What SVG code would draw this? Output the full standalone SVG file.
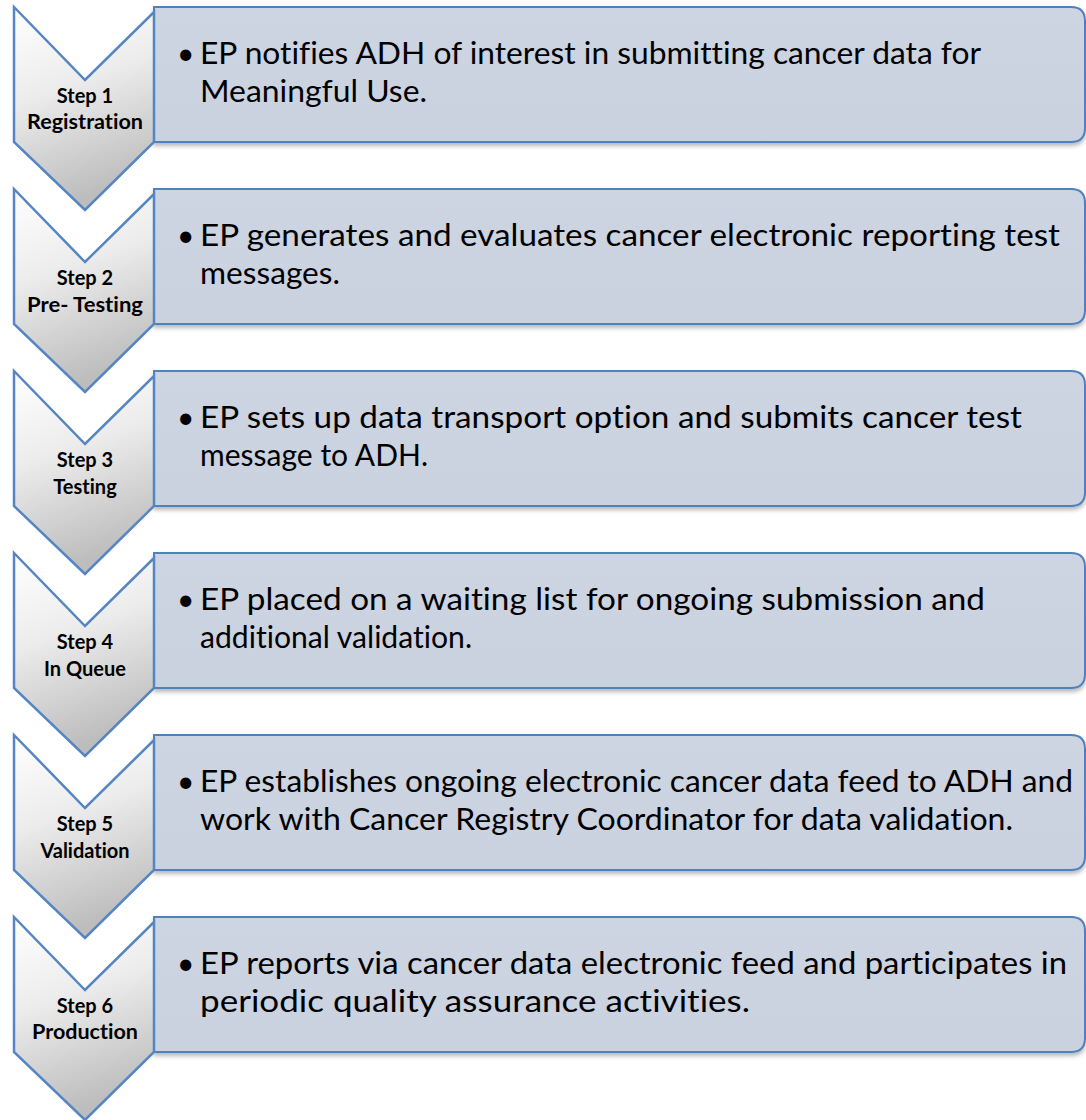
<svg xmlns="http://www.w3.org/2000/svg" width="1086" height="1120" viewBox="0 0 1086 1120">
<defs>
<linearGradient id="chev" x1="0" y1="0" x2="0.25" y2="1">
<stop offset="0" stop-color="#ffffff"/>
<stop offset="0.45" stop-color="#ececec"/>
<stop offset="1" stop-color="#bdbdbd"/>
</linearGradient>
<linearGradient id="box" x1="0" y1="0" x2="0" y2="1">
<stop offset="0" stop-color="#cdd4e2"/>
<stop offset="1" stop-color="#cad1df"/>
</linearGradient>
<filter id="sh" x="-5%" y="-10%" width="110%" height="125%">
<feDropShadow dx="0" dy="3" stdDeviation="2" flood-color="#000" flood-opacity="0.28"/>
</filter>
<path id="chevShape" d="M14,0 L85,73 L154,5 L154,135 L85,203 L14,135 Z"/>
<path id="boxShape" d="M154,0 H1071 Q1085,0 1085,14 V121 Q1085,135 1071,135 H154 Z"/>
</defs>
<style>
.box{fill:url(#box);stroke:#4f81bd;stroke-width:2;filter:url(#sh)}
.chev{fill:url(#chev);stroke:#5585c2;stroke-width:2.5;stroke-linejoin:miter}
.lbl{font-family:Lato,"Liberation Sans",sans-serif;font-weight:bold;font-size:20px;fill:#000;text-anchor:middle;font-variant-ligatures:none}
.txt{font-family:Lato,"Liberation Sans",sans-serif;font-size:30px;fill:#000;font-variant-ligatures:none}
</style>
<g id="connectors"></g>

<g id="step1" transform="translate(0,7)">
<use href="#boxShape" class="box"/>
<use href="#chevShape" class="chev"/>
<text class="lbl" x="85" y="96">Step 1</text>
<text class="lbl" x="85" y="122" textLength="116" lengthAdjust="spacingAndGlyphs">Registration</text>
<text class="txt" x="177" y="57">•</text>
<text class="txt" x="200" y="57" textLength="781" lengthAdjust="spacingAndGlyphs">EP notifies ADH of interest in submitting cancer data for</text>
<text class="txt" x="200" y="95" textLength="227" lengthAdjust="spacingAndGlyphs">Meaningful Use.</text>
</g>

<g id="step2" transform="translate(0,189)">
<use href="#boxShape" class="box"/>
<use href="#chevShape" class="chev"/>
<text class="lbl" x="85" y="96">Step 2</text>
<text class="lbl" x="85" y="123" textLength="116" lengthAdjust="spacingAndGlyphs">Pre- Testing</text>
<text class="txt" x="177" y="57">•</text>
<text class="txt" x="200" y="57" textLength="860" lengthAdjust="spacingAndGlyphs">EP generates and evaluates cancer electronic reporting test</text>
<text class="txt" x="200" y="95" textLength="140" lengthAdjust="spacingAndGlyphs">messages.</text>
</g>

<g id="step3" transform="translate(0,371)">
<use href="#boxShape" class="box"/>
<use href="#chevShape" class="chev"/>
<text class="lbl" x="85" y="96">Step 3</text>
<text class="lbl" x="85" y="123">Testing</text>
<text class="txt" x="177" y="57">•</text>
<text class="txt" x="200" y="57" textLength="822" lengthAdjust="spacingAndGlyphs">EP sets up data transport option and submits cancer test</text>
<text class="txt" x="200" y="95" textLength="228" lengthAdjust="spacingAndGlyphs">message to ADH.</text>
</g>

<g id="step4" transform="translate(0,553)">
<use href="#boxShape" class="box"/>
<use href="#chevShape" class="chev"/>
<text class="lbl" x="85" y="96">Step 4</text>
<text class="lbl" x="85" y="123">In Queue</text>
<text class="txt" x="177" y="57">•</text>
<text class="txt" x="200" y="57" textLength="785" lengthAdjust="spacingAndGlyphs">EP placed on a waiting list for ongoing submission and</text>
<text class="txt" x="200" y="95" textLength="272" lengthAdjust="spacingAndGlyphs">additional validation.</text>
</g>

<g id="step5" transform="translate(0,735)">
<use href="#boxShape" class="box"/>
<use href="#chevShape" class="chev"/>
<text class="lbl" x="85" y="96">Step 5</text>
<text class="lbl" x="85" y="123">Validation</text>
<text class="txt" x="177" y="57">•</text>
<text class="txt" x="200" y="57" textLength="873" lengthAdjust="spacingAndGlyphs">EP establishes ongoing electronic cancer data feed to ADH and</text>
<text class="txt" x="200" y="95" textLength="813" lengthAdjust="spacingAndGlyphs">work with Cancer Registry Coordinator for data validation.</text>
</g>

<g id="step6" transform="translate(0,917)">
<use href="#boxShape" class="box"/>
<use href="#chevShape" class="chev"/>
<text class="lbl" x="85" y="96">Step 6</text>
<text class="lbl" x="85" y="122" textLength="106" lengthAdjust="spacingAndGlyphs">Production</text>
<text class="txt" x="177" y="57">•</text>
<text class="txt" x="200" y="57" textLength="867" lengthAdjust="spacingAndGlyphs">EP reports via cancer data electronic feed and participates in</text>
<text class="txt" x="200" y="95" textLength="550" lengthAdjust="spacingAndGlyphs">periodic quality assurance activities.</text>
</g>
</svg>
